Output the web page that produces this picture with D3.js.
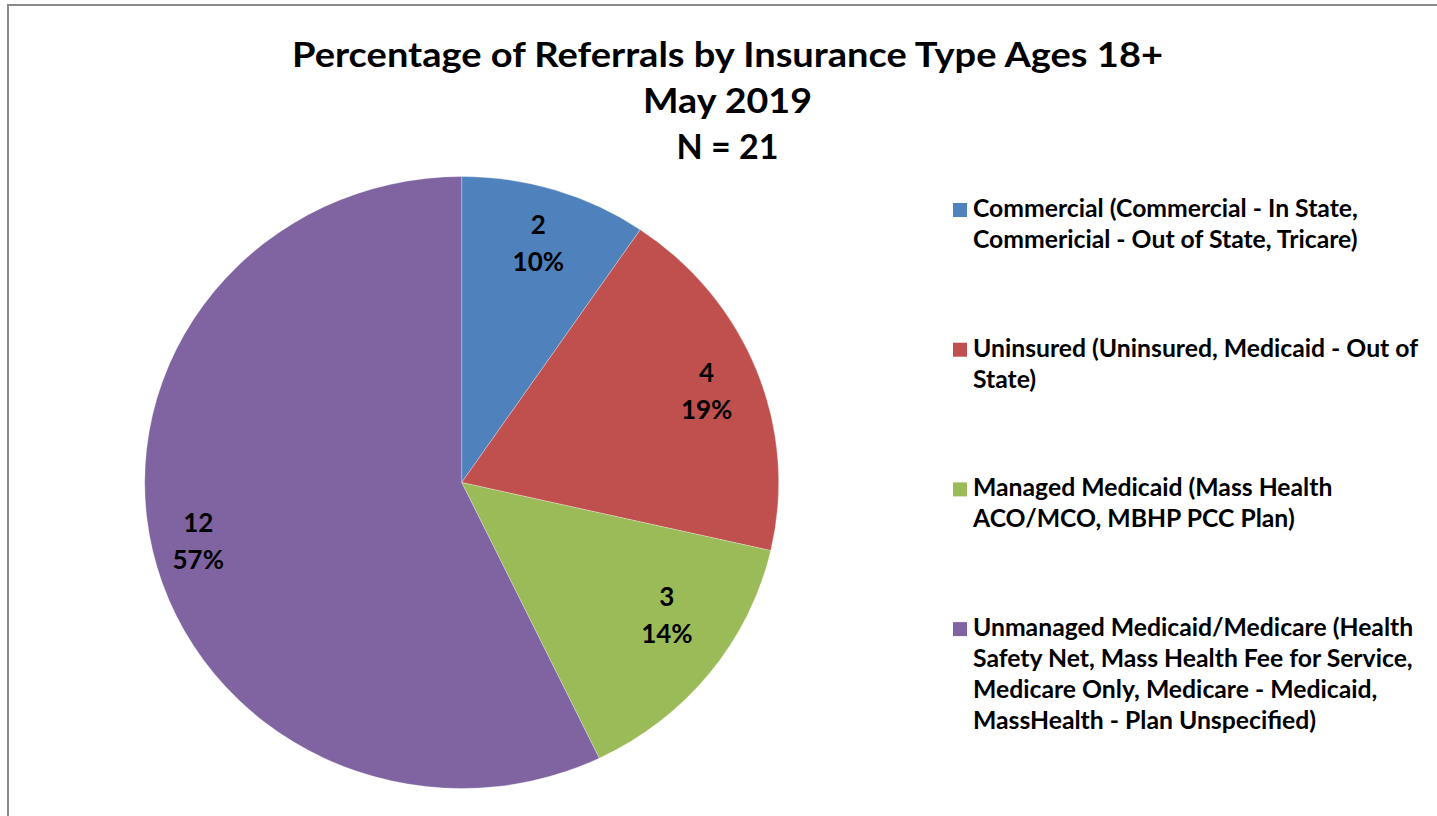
<!DOCTYPE html>
<html>
<head>
<meta charset="utf-8">
<script src="https://cdn.jsdelivr.net/npm/d3@7/dist/d3.min.js"></script>
<style>
  html, body { margin: 0; padding: 0; background: #fff; overflow: hidden; }
  svg { display: block; }
  text { font-family: Lato, "Open Sans", sans-serif; font-weight: 700; fill: #000; }
</style>
</head>
<body>
<svg id="chart" width="1437" height="816"></svg>
<script>
// ---- data ----
const titleLines = ["Percentage of Referrals by Insurance Type Ages 18+", "May 2019", "N = 21"];
const categories = ["Commercial", "Uninsured", "Managed Medicaid", "Unmanaged Medicaid/Medicare"];
const counts = [2, 4, 3, 12];
const percentLabels = ["10%", "19%", "14%", "57%"];
const legendLines = [
  ["Commercial (Commercial - In State,", "Commericial - Out of State, Tricare)"],
  ["Uninsured (Uninsured, Medicaid - Out of", "State)"],
  ["Managed Medicaid (Mass Health", "ACO/MCO, MBHP PCC Plan)"],
  ["Unmanaged Medicaid/Medicare (Health", "Safety Net, Mass Health Fee for Service,", "Medicare Only, Medicare - Medicaid,", "MassHealth - Plan Unspecified)"]
];
const colors = ["#4F81BD", "#C0504D", "#9BBB59", "#8064A2"];

// ---- layout ----
const svg = d3.select("#chart");
svg.append("rect").attr("x", 8).attr("y", 5).attr("width", 1460).attr("height", 840)
  .attr("fill", "none").attr("stroke", "#898989").attr("stroke-width", 2);

function fitFont(sel, target, start) {
  sel.style("font-size", start + "px");
  const w = sel.node().getComputedTextLength();
  const fs = start * target / w;
  sel.style("font-size", fs + "px");
  return fs;
}

// title: font size matched to cap height, glyphs condensed to reference width
const titleFs = 34;
const titleWidths = [871, 169, 102];
svg.append("g").selectAll("text").data(titleLines).enter().append("text")
  .attr("x", 727.5).attr("y", (d, i) => 67 + i * 46)
  .attr("text-anchor", "middle").style("font-size", titleFs + "px")
  .attr("textLength", (d, i) => titleWidths[i]).attr("lengthAdjust", "spacingAndGlyphs")
  .text(d => d);

// pie
const cx = 461.7, cy = 482.5, ry = 306, rx = 317;
const pie = d3.pie().sort(null).value(d => d)(counts);
const arc = d3.arc().innerRadius(0).outerRadius(ry);
const pieG = svg.append("g").attr("transform", `translate(${cx},${cy}) scale(${rx / ry},1)`);
pieG.selectAll("path").data(pie).enter().append("path")
  .attr("d", arc).attr("fill", (d, i) => colors[i])
  .attr("stroke", "#ffffff").attr("stroke-opacity", 0.35).attr("stroke-width", 0.8);

// data labels
const labelArc = d3.arc().innerRadius(ry * 0.82).outerRadius(ry * 0.82);
const nudge = [[0, 0], [3, 0], [2, -24], [-10, 3]];
const lblG = svg.append("g").attr("transform", `translate(${cx},${cy})`);
pie.forEach((d, i) => {
  const c = labelArc.centroid(d);
  const x = c[0] * rx / ry + nudge[i][0];
  const y = c[1] + nudge[i][1];
  const t = lblG.append("text").attr("text-anchor", "middle").style("font-size", "26px");
  t.append("tspan").attr("x", x).attr("y", y - 9).text(counts[i]);
  t.append("tspan").attr("x", x).attr("y", y + 28).text(percentLabels[i]);
});

// legend
const legG = svg.append("g");
const probe = legG.append("text").attr("x", 973).attr("y", 217).text(legendLines[0][0]);
const legFs = fitFont(probe, 385, 20);
probe.remove();
const lineH = 31, itemGap = 77.7;
let yBase = 217;
legendLines.forEach((lines, i) => {
  legG.append("rect").attr("x", 953).attr("y", yBase - 14).attr("width", 14).attr("height", 14)
    .attr("fill", colors[i]);
  lines.forEach((ln, j) => {
    legG.append("text").attr("x", 973).attr("y", yBase + j * lineH)
      .style("font-size", legFs + "px").text(ln);
  });
  yBase += lines.length * lineH + itemGap;
});
</script>
</body>
</html>
